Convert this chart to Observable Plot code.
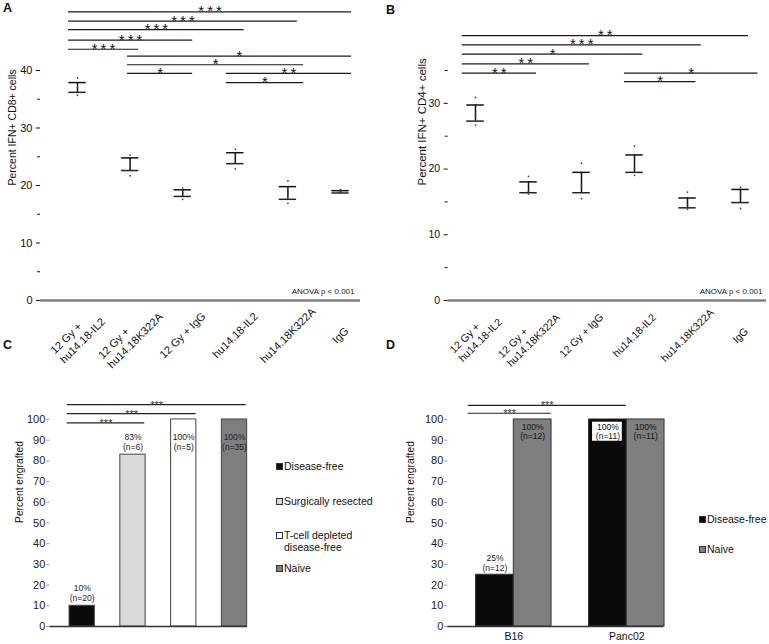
<!DOCTYPE html>
<html><head><meta charset="utf-8">
<script src="https://cdn.jsdelivr.net/npm/d3@7"></script>
<script src="https://cdn.jsdelivr.net/npm/@observablehq/plot@0.6"></script>
<style>
body{margin:0;background:#fff;}
#fig{position:relative;width:769px;height:644px;overflow:hidden;font-family:"Liberation Sans",Arial,sans-serif;color:#111;}
.letter{position:absolute;font-weight:bold;font-size:12.5px;line-height:13px;}
.leg{position:absolute;font-size:10.5px;line-height:12px;color:#111;white-space:nowrap;}
.leg .sw{position:absolute;left:0;top:3px;width:5px;height:5px;border:1px solid #333;}
.leg .tx{position:absolute;left:8px;top:0;}
</style></head>
<body><div id="fig"></div>
<script>
// ---------- data ----------
const groupLabels = ["12 Gy +\nhu14.18-IL2","12 Gy +\nhu14.18K322A","12 Gy + IgG","hu14.18-IL2","hu14.18K322A","IgG"];
// Panel A: percent IFN+ CD8+ (SEM caps and individual points)
const cd8Upper = [37.9, 24.8, 19.25, 25.7, 19.8, 19.1];
const cd8Lower = [36.2, 22.6, 18.1, 23.8, 17.6, 18.7];
const cd8Points = [[38.7,37.1,35.7],[25.3,24.5,21.7],[19.6,18.8,17.6],[26.3,25.3,22.9],[20.8,18.6,16.9],[19.3,19.0,18.7]];
const sigA = [
  {x1:-0.17, x2:5.21, y:50.2, s:"***"},
  {x1:-0.17, x2:4.18, y:48.6, s:"***"},
  {x1:-0.17, x2:3.17, y:47.1, s:"***"},
  {x1:-0.17, x2:2.19, y:45.3, s:"***"},
  {x1:-0.17, x2:1.16, y:43.7, s:"***"},
  {x1:0.95, x2:5.21, y:42.5, s:"*"},
  {x1:0.95, x2:4.30, y:41.0, s:"*"},
  {x1:0.95, x2:2.19, y:39.5, s:"*"},
  {x1:2.83, x2:5.21, y:39.5, s:"**"},
  {x1:2.83, x2:4.30, y:37.9, s:"*"}
];
// Panel B: percent IFN+ CD4+
const cd4Upper = [29.75, 18.05, 19.5, 22.15, 15.6, 16.9];
const cd4Lower = [27.3, 16.4, 16.4, 19.5, 14.1, 14.9];
const cd4Points = [[30.9,28.3,26.7],[18.9,16.6,16.2],[20.9,17.4,15.5],[23.5,20.1,19.05],[16.5,14.5,13.9],[17.2,16.5,14.0]];
const sigB = [
  {x1:-0.25, x2:5.15, y:40.3, s:"**"},
  {x1:-0.25, x2:4.26, y:38.9, s:"***"},
  {x1:-0.25, x2:3.16, y:37.5, s:"*"},
  {x1:-0.25, x2:2.15, y:36.0, s:"**"},
  {x1:-0.25, x2:1.15, y:34.6, s:"**"},
  {x1:2.81, x2:5.33, y:34.6, s:"*"},
  {x1:2.81, x2:4.16, y:33.3, s:"*"}
];
// Panel C
const cGroups = ["Disease-free","Surgically resected","T-cell depleted\ndisease-free","Naive"];
const cValues = [10, 83, 100, 100];
const cN = [20, 6, 5, 35];
const cColors = ["#0a0a0a","#d9d9d9","#ffffff","#7f7f7f"];
const sigC = [
  {x1:-0.295, x2:3.23, y:107.2, s:"***"},
  {x1:-0.295, x2:2.245, y:102.8, s:"***"},
  {x1:-0.295, x2:1.233, y:98.4, s:"***"}
];
// Panel D
const dGroups = ["B16","Panc02"];
const dSeries = ["Disease-free","Naive"];
const dSeriesColors = ["#0a0a0a","#7f7f7f"];
const dDiseaseFree = [25, 100];
const dDiseaseFreeN = [12, 11];
const dNaive = [100, 100];
const dNaiveN = [12, 11];
const sigD = [
  {x1:-0.404, x2:0.995, y:106.8, s:"***"},
  {x1:-0.404, x2:0.331, y:103.0, s:"***"}
];

// ---------- helpers ----------
const FONT = '"Liberation Sans", Arial, sans-serif';
const fig = document.getElementById("fig");
function place(el, left, top) {
  el.style.position = "absolute"; el.style.left = left + "px"; el.style.top = top + "px";
  fig.appendChild(el);
}
const ctx = document.createElement("canvas").getContext("2d");
const textWidth = (s, size) => { ctx.font = `${size}px "Liberation Sans"`; return ctx.measureText(s).width; };
const starFmt = s => s.split("").join("\u2009");

function xLabelMarks(size) {
  return groupLabels.map((lab, i) => {
    const lines = lab.split("\n");
    if (lines.length === 1) {
      return Plot.text([lab], {x: [i], y: [0], dy: 35, rotate: -45, textAnchor: "middle", fontSize: size, fill: "#111"});
    }
    const h = Math.max(...lines.map(l => textWidth(l, size))) / 2 * Math.SQRT1_2;
    return Plot.text([lab], {x: [i], y: [0], dx: -h, dy: 35 + h, rotate: -45, textAnchor: "start", lineHeight: 1.2, fontSize: size, fill: "#111"});
  });
}

function panelAB({upper, lower, points, sig, yMax, ticks, minor, yLabel, labelDx, labelSize, tickSize, xLabelSize, xRange, width, marginLeft, marginRight, anovaDx}) {
  const groups = upper.map((hi, i) => ({i, hi, lo: lower[i]}));
  const pts = points.flatMap((vs, i) => vs.map(v => ({i, v})));
  const cap = 0.165;
  return Plot.plot({
    width, height: 372, marginTop: 70, marginBottom: 72, marginLeft, marginRight,
    x: {domain: [0, 5], range: xRange, axis: null},
    y: {domain: [0, yMax], axis: null},
    style: {fontFamily: FONT, fontSize: tickSize + "px", color: "#111", background: "transparent"},
    marks: [
      Plot.ruleY([0], {stroke: "#808080", strokeWidth: 2.5}),
      Plot.axisY({ticks, tickSize: 4, tickPadding: 4, line: true, stroke: "#111", fill: "#111"}),
      Plot.axisY({ticks: minor, tickSize: 3, tickFormat: () => "", stroke: "#111"}),
      Plot.ruleY(sig, {x1: "x1", x2: "x2", y: "y", stroke: "#1a1a1a", strokeWidth: 1.2}),
      Plot.text(sig, {x: d => (d.x1 + d.x2) / 2, y: "y", text: d => starFmt(d.s), lineAnchor: "bottom", dy: 4.5, fontSize: 15, fill: "#111"}),
      Plot.ruleX(groups, {x: "i", y1: "lo", y2: "hi", stroke: "#111", strokeWidth: 1.5}),
      Plot.ruleY(groups, {x1: d => d.i - cap, x2: d => d.i + cap, y: "hi", stroke: "#111", strokeWidth: 1.5}),
      Plot.ruleY(groups, {x1: d => d.i - cap, x2: d => d.i + cap, y: "lo", stroke: "#222", strokeWidth: 1.5}),
      Plot.dot(pts, {x: "i", y: "v", r: 0.9, fill: "#444"}),
      Plot.text(["ANOVA p < 0.001"], {frameAnchor: "bottom-right", dx: anovaDx, dy: -7, textAnchor: "end", fontSize: 8, fill: "#222"}),
      Plot.text([yLabel], {frameAnchor: "left", dx: labelDx, rotate: -90, fontSize: labelSize, fill: "#111"}),
      ...xLabelMarks(xLabelSize)
    ]
  });
}

// ---------- Panel A ----------
place(panelAB({
  upper: cd8Upper, lower: cd8Lower, points: cd8Points, sig: sigA, yMax: 40,
  ticks: [0,10,20,30,40], minor: [5,15,25,35], yLabel: "Percent IFN+ CD8+ cells", labelDx: -28.3, labelSize: 10.5,
  tickSize: 11, xLabelSize: 11,
  xRange: [77, 340], width: 385, marginLeft: 40, marginRight: 25, anovaDx: -6
}), 0, 0);

// ---------- Panel B ----------
place(panelAB({
  upper: cd4Upper, lower: cd4Lower, points: cd4Points, sig: sigB, yMax: 35,
  ticks: [0,10,20,30], minor: [5,15,25,35], yLabel: "Percent IFN+ CD4+ cells", labelDx: -26, labelSize: 11.5,
  tickSize: 10.5, xLabelSize: 10.5,
  xRange: [90, 355], width: 384, marginLeft: 62.7, marginRight: 3, anovaDx: -4
}), 385, 0);

// ---------- Panel C ----------
{
  const bars = cGroups.map((g, i) => ({i, g, v: cValues[i], n: cN[i], c: cColors[i]}));
  const hw = 0.249;
  const svg = Plot.plot({
    width: 385, height: 254, marginTop: 18, marginBottom: 18, marginLeft: 49.3, marginRight: 138,
    x: {domain: [0, 3], range: [81.7, 234], axis: null},
    y: {domain: [0, 105.3], axis: null},
    style: {fontFamily: FONT, fontSize: "11px", color: "#111", background: "transparent"},
    marks: [
      Plot.rect(bars, {x1: d => d.i - hw, x2: d => d.i + hw, y1: 0, y2: "v", fill: "c", stroke: "#444", strokeWidth: 1}),
      Plot.text(bars.filter(d => d.v < 95), {x: "i", y: "v", text: d => `${d.v}%\n(n=${d.n})`, lineAnchor: "bottom", dy: -5, lineHeight: 1.18, fontSize: 8.5, fill: "#222"}),
      Plot.text(bars.filter(d => d.v >= 95), {x: "i", y: "v", text: d => `${d.v}%\n(n=${d.n})`, lineAnchor: "top", dy: 13.5, lineHeight: 1.18, fontSize: 8.5, fill: "#222"}),
      Plot.ruleY([0], {stroke: "#333", strokeWidth: 1.5}),
      Plot.axisY({ticks: d3.range(0, 101, 10), tickSize: 3, tickPadding: 1.5, line: true, stroke: "#999", fill: "#222"}),
      Plot.ruleY(sigC, {x1: "x1", x2: "x2", y: "y", stroke: "#222", strokeWidth: 1.2}),
      Plot.text(sigC, {x: d => (d.x1 + d.x2) / 2, y: "y", text: "s", lineAnchor: "bottom", dy: 4, fontSize: 11, fill: "#333"}),
      Plot.text(["Percent engrafted"], {y: [50], frameAnchor: "left", dx: -30.3, rotate: -90, fontSize: 10.3, fill: "#111"})
    ]
  });
  place(svg, 0, 390);
}

// ---------- Panel D ----------
{
  const rows = [
    ...dGroups.map((g, i) => ({g: i, s: 0, v: dDiseaseFree[i], n: dDiseaseFreeN[i]})),
    ...dGroups.map((g, i) => ({g: i, s: 1, v: dNaive[i], n: dNaiveN[i]}))
  ];
  const bw = 0.334;
  const x1 = d => d.s === 0 ? d.g - bw : d.g;
  const x2 = d => d.s === 0 ? d.g : d.g + bw;
  const inside = rows.filter(d => d.v >= 95);
  const svg = Plot.plot({
    width: 384, height: 254, marginTop: 18, marginBottom: 18, marginLeft: 62.3, marginRight: 105.7,
    x: {domain: [0, 1], range: [128.3, 241.3], axis: null},
    y: {domain: [0, 105.3], axis: null},
    style: {fontFamily: FONT, fontSize: "11px", color: "#111", background: "transparent"},
    marks: [
      Plot.rect(rows, {x1, x2, y1: 0, y2: "v", fill: d => dSeriesColors[d.s], stroke: "#333", strokeWidth: 1}),
      Plot.rect(inside.filter(d => d.s === 0), {x1, x2, y1: d => d.v - 11, y2: "v", insetTop: 2.7, insetBottom: 1, insetLeft: 3.5, insetRight: 4.5, fill: "#fff"}),
      Plot.text(rows.filter(d => d.v < 95), {x: d => (x1(d) + x2(d)) / 2, y: "v", text: d => `${d.v}%\n(n=${d.n})`, lineAnchor: "bottom", dy: -3.3, lineHeight: 1.18, fontSize: 8.5, fill: "#222"}),
      Plot.text(inside, {x: d => (x1(d) + x2(d)) / 2, y: "v", text: d => `${d.v}%\n(n=${d.n})`, lineAnchor: "top", dy: 3.3, lineHeight: 1.15, fontSize: 8.5, fill: "#111"}),
      Plot.ruleY([0], {stroke: "#333", strokeWidth: 1.5}),
      Plot.axisY({ticks: d3.range(0, 101, 10), tickSize: 3, tickPadding: 1.5, line: true, stroke: "#999", fill: "#222"}),
      Plot.ruleY(sigD, {x1: "x1", x2: "x2", y: "y", stroke: "#222", strokeWidth: 1.2}),
      Plot.text(sigD, {x: d => (d.x1 + d.x2) / 2, y: "y", text: "s", lineAnchor: "bottom", dy: 4, fontSize: 11, fill: "#333"}),
      Plot.text(dGroups, {x: (d, i) => i, frameAnchor: "bottom", lineAnchor: "top", dy: 6, fontSize: 10.5, fill: "#111"}),
      Plot.text(["Percent engrafted"], {y: [50], frameAnchor: "left", dx: -37, rotate: -90, fontSize: 10.3, fill: "#111"})
    ]
  });
  place(svg, 385, 390);
}

// ---------- legends (HTML) ----------
function legendItem(label, color, left, top) {
  const d = document.createElement("div");
  d.className = "leg";
  const sw = document.createElement("span"); sw.className = "sw"; sw.style.background = color;
  const tx = document.createElement("span"); tx.className = "tx"; tx.innerText = label;
  d.appendChild(sw); d.appendChild(tx);
  place(d, left, top);
}
const cLegendTops = [460, 495, 529, 562];
cGroups.forEach((g, i) => legendItem(g, cColors[i], 276, cLegendTops[i]));
const dLegendTops = [513, 543];
dSeries.forEach((s, i) => legendItem(s, dSeriesColors[i], 699, dLegendTops[i]));

// ---------- panel letters ----------
[["A", 3, 1.5], ["B", 386, 3.5], ["C", 3, 338.5], ["D", 386, 338.5]].forEach(([t, l, tp]) => {
  const d = document.createElement("div"); d.className = "letter"; d.textContent = t; place(d, l, tp);
});
</script>
</body></html>
